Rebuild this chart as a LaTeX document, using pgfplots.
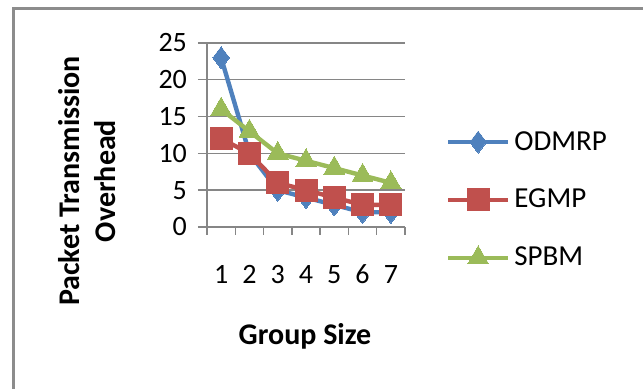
\documentclass[border=0pt]{standalone}
\usepackage{pgfplots}
\pgfplotsset{compat=1.18}
\usepackage{fontspec}
\setmainfont{Carlito}

\definecolor{odmrp}{HTML}{4F81BD}
\definecolor{egmp}{HTML}{C0504D}
\definecolor{spbm}{HTML}{9BBB59}
\definecolor{axgray}{HTML}{868686}
\definecolor{framegray}{HTML}{8C8C8C}

\begin{document}
\begin{tikzpicture}
\useasboundingbox (0,0) rectangle (321.5pt,194.5pt);
% chart frame
\draw[framegray, line width=1.4pt] (6.65pt,-5pt) -- (6.65pt,190.35pt) -- (330pt,190.35pt);

\begin{axis}[
  at={(103.5pt,81pt)}, anchor=south west,
  scale only axis, width=99pt, height=92pt,
  xmin=0.5, xmax=7.5, ymin=0, ymax=25,
  xtick={1,...,7}, ytick={0,5,...,25},
  minor xtick={0.5,1.5,...,7.5},
  every major x tick/.append style={draw=none},
  tick align=outside,
  major tick length=4.5pt, minor tick length=4pt,
  tick style={axgray, line width=0.7pt},
  axis x line*=bottom, axis y line*=left,
  axis line style={axgray, line width=0.7pt, -},
  ymajorgrids, grid style={axgray, line width=0.7pt},
  font=\fontsize{14}{16}\selectfont,
  /pgf/number format/assume math mode=true,
  yticklabel style={anchor=east, xshift=-2pt},
  xticklabel style={anchor=base, yshift=-24pt},
  ylabel={\bfseries Packet Transmission\\\bfseries Overhead},
  ylabel style={align=center, font=\fontsize{15}{18}\selectfont,
    at={(axis description cs:-0.605,0.25)}, anchor=center, rotate=0},
  xlabel={\bfseries Group Size},
  xlabel style={font=\fontsize{15}{17}\selectfont, at={(axis description cs:0.495,-0.641)}, anchor=base},
  legend style={draw=none, fill=none, at={(axis description cs:1.205,0.147)}, anchor=west,
    inner sep=0pt, row sep=14pt, font=\fontsize{14.5}{16}\selectfont},
  legend cell align=left,
  legend image code/.code={\draw[mark repeat=2, mark phase=2] plot coordinates {(0pt,0pt)(15pt,0pt)(30pt,0pt)};},
  every axis plot/.append style={line width=2.2pt},
  clip=false,
]
\addplot[odmrp, mark=diamond*, mark size=5.5pt, mark options={solid, line width=0pt}]
  coordinates {(1,23)(2,10)(3,5)(4,4)(5,3)(6,2)(7,2)};
\addlegendentry{ODMRP}
\addplot[egmp, mark=square*, mark size=5.5pt, mark options={solid, line width=0pt}]
  coordinates {(1,12)(2,10)(3,6)(4,5)(5,4)(6,3)(7,3)};
\addlegendentry{EGMP}
\addplot[spbm, mark=triangle*, mark size=6pt, mark options={solid, line width=0pt}]
  coordinates {(1,16)(2,13)(3,10)(4,9)(5,8)(6,7)(7,6)};
\addlegendentry{SPBM}
\end{axis}
\end{tikzpicture}
\end{document}
